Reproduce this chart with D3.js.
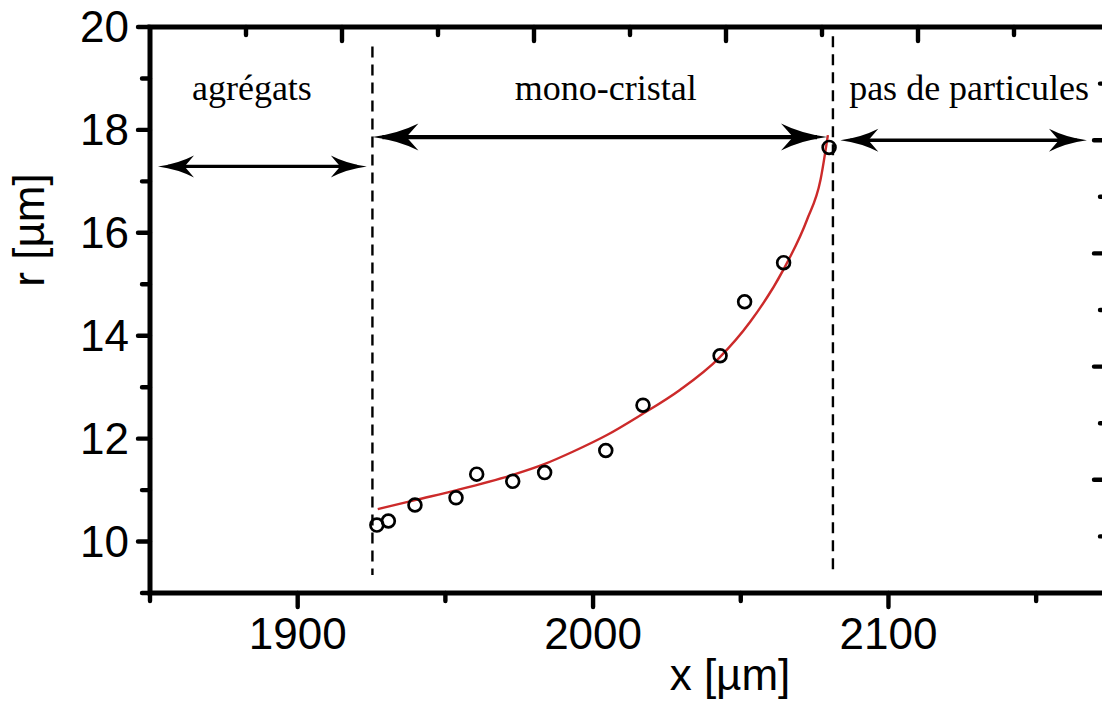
<!DOCTYPE html>
<html>
<head>
<meta charset="utf-8">
<script src="https://cdn.jsdelivr.net/npm/d3@7"></script>
<style>
  html, body { margin: 0; padding: 0; background: #fff; }
  svg { display: block; }
</style>
</head>
<body>
<svg id="chart" width="1102" height="701"></svg>
<script>
// ---------------- DATA ----------------
const xDomain = [1850, 2175];
const yDomain = [9, 20];
const xMajorTicks = [1900, 2000, 2100];
const xMinorTicks = [1850, 1950, 2050, 2150];
const yMajorTicks = [10, 12, 14, 16, 18, 20];
const yMinorTicks = [9, 11, 13, 15, 17, 19];
// unlabeled twin axes (top / right)
const topMajorTicks = [1, 2, 3, 4];
const topMinorTicks = [0.5, 1.5, 2.5, 3.5, 4.5];
const rightMajorTicks = [1, 2, 3, 4];
const rightMinorTicks = [0.5, 1.5, 2.5, 3.5, 4.5];

// measured points (x [µm], r [µm])
const pointX = [1926.8, 1930.7, 1939.7, 1953.6, 1960.6, 1972.8, 1983.6, 2004.3, 2016.9, 2043.0, 2051.3, 2064.5, 2079.9];
const pointR = [10.32, 10.40, 10.71, 10.85, 11.31, 11.17, 11.34, 11.77, 12.65, 13.61, 14.66, 15.42, 17.66];

// fitted curve
const fitX = [1927.1, 1940.1, 1953.9, 1973.0, 1983.7, 1993.3, 2004.7, 2015.9, 2029.5, 2042.7, 2053.2, 2064.4, 2072.4, 2077.0, 2079.5];
const fitR = [10.63, 10.81, 11.00, 11.30, 11.51, 11.75, 12.07, 12.45, 12.95, 13.57, 14.27, 15.28, 16.25, 17.03, 17.90];

// region boundaries (dashed lines)
const boundaryX = [1925.3, 2081.2];
const boundaryTop = [19.62, 19.82];
const boundaryBottom = 9.35;

// region arrows and labels
const regionLabels = ["agrégats", "mono-cristal", "pas de particules"];
const regionLabelX = [1884.5, 2004.3, 2127.3];
const regionLabelR = 18.58;
const arrowX1 = [1852.7, 1925.3, 2083.7];
const arrowX2 = [1923.4, 2079.2, 2167.2];
const arrowR = [17.29, 17.86, 17.80];

const xTitle = "x [µm]";
const yTitle = "r [µm]";

// ---------------- LAYOUT ----------------
const svg = d3.select("#chart");
const L = 150, R = 1110, T = 27, B = 593;
const x = d3.scaleLinear().domain(xDomain).range([L, R]);
const y = d3.scaleLinear().domain(yDomain).range([B, T]);
const xTop = d3.scaleLinear().domain([0, 5]).range([L, R]);
const yRight = d3.scaleLinear().domain([0, 5]).range([B, T]);

svg.append("rect").attr("width", 1102).attr("height", 701).attr("fill", "#fff");

const sans = "'Liberation Sans', Arial, Helvetica, sans-serif";
const serif = "'Liberation Serif', 'Times New Roman', Times, serif";

// frame
svg.append("rect")
  .attr("x", L).attr("y", T).attr("width", R - L).attr("height", B - T)
  .attr("fill", "none").attr("stroke", "#000").attr("stroke-width", 5);

// tick label texts
svg.append("g").selectAll("text").data(xMajorTicks).join("text")
  .attr("x", d => x(d)).attr("y", 649)
  .attr("text-anchor", "middle")
  .style("font-family", sans).style("font-size", "44px")
  .text(d3.format("d"));
svg.append("g").selectAll("text").data(yMajorTicks).join("text")
  .attr("x", 129).attr("y", d => y(d)).attr("dy", "0.34em")
  .attr("text-anchor", "end")
  .style("font-family", sans).style("font-size", "44px")
  .text(d3.format("d"));

// axis titles
svg.append("text")
  .attr("x", 730).attr("y", 690)
  .attr("text-anchor", "middle")
  .style("font-family", sans).style("font-size", "44px")
  .text(xTitle);
svg.append("text")
  .attr("transform", "translate(44,230) rotate(-90)")
  .attr("text-anchor", "middle")
  .style("font-family", sans).style("font-size", "44px")
  .text(yTitle);

// dashed boundaries
svg.append("g").selectAll("line").data(boundaryX).join("line")
  .attr("x1", d => x(d)).attr("x2", d => x(d))
  .attr("y1", (d, i) => y(boundaryTop[i])).attr("y2", y(boundaryBottom))
  .attr("stroke", "#000").attr("stroke-width", 2.4)
  .attr("stroke-dasharray", "11,7");

// fitted curve
const line = d3.line().x(d => x(d[0])).y(d => y(d[1])).curve(d3.curveMonotoneX);
svg.append("path")
  .datum(fitX.map((d, i) => [d, fitR[i]]))
  .attr("d", line)
  .attr("fill", "none").attr("stroke", "#cc2a2a").attr("stroke-width", 2.4);

// points
svg.append("g").selectAll("circle").data(pointX).join("circle")
  .attr("cx", d => x(d)).attr("cy", (d, i) => y(pointR[i]))
  .attr("r", 6.4)
  .attr("fill", "none").attr("stroke", "#000").attr("stroke-width", 2.7);

// arrows
function headPath(len, h) {
  return `M0,0 Q${-0.55 * len},${-0.12 * h} ${-len},${-h / 2} L${-0.74 * len},0 L${-len},${h / 2} Q${-0.55 * len},${0.12 * h} 0,0 Z`;
}
const headLen = [36, 46, 38];
const headH = [22, 27, 23];
const shaftW = [3.2, 4.2, 3.6];
const ag = svg.append("g");
arrowX1.forEach((x1, i) => {
  const px1 = x(x1), px2 = x(arrowX2[i]), py = y(arrowR[i]);
  ag.append("line")
    .attr("x1", px1 + 10).attr("x2", px2 - 10).attr("y1", py).attr("y2", py)
    .attr("stroke", "#000").attr("stroke-width", shaftW[i]);
  ag.append("path").attr("d", headPath(headLen[i], headH[i]))
    .attr("transform", `translate(${px2},${py})`).attr("fill", "#000");
  ag.append("path").attr("d", headPath(headLen[i], headH[i]))
    .attr("transform", `translate(${px1},${py}) rotate(180)`).attr("fill", "#000");
});

// region labels
svg.append("g").selectAll("text").data(regionLabels).join("text")
  .attr("x", (d, i) => x(regionLabelX[i])).attr("y", y(regionLabelR))
  .attr("text-anchor", "middle")
  .style("font-family", serif).style("font-size", "36px")
  .text(d => d);

// ticks, drawn last as single paths built from the scales
function tickPath(vals, fn) { return vals.map(fn).join(" "); }
const tickStyle = p => p.attr("fill", "none").attr("stroke", "#000")
  .attr("stroke-width", 4.4).attr("stroke-linecap", "round");
svg.append("path").call(tickStyle)
  .attr("d", tickPath(xMajorTicks, d => `M${x(d)},${B}V${B + 14}`) + " " +
             tickPath(xMinorTicks, d => `M${x(d)},${B}V${B + 8}`));
svg.append("path").call(tickStyle)
  .attr("d", tickPath(yMajorTicks, d => `M${L},${y(d)}H${L - 12}`) + " " +
             tickPath(yMinorTicks, d => `M${L},${y(d)}H${L - 8}`));
svg.append("path").call(tickStyle)
  .attr("d", tickPath(rightMajorTicks, d => `M${R},${yRight(d)}H${R - 16}`) + " " +
             tickPath(rightMinorTicks, d => `M${R},${yRight(d)}H${R - 10}`));
svg.append("path").call(tickStyle)
  .attr("d", tickPath(topMajorTicks, d => `M${xTop(d)},${T}V${T + 14}`) + " " +
             tickPath(topMinorTicks, d => `M${xTop(d)},${T}V${T + 8}`));
</script>
</body>
</html>
